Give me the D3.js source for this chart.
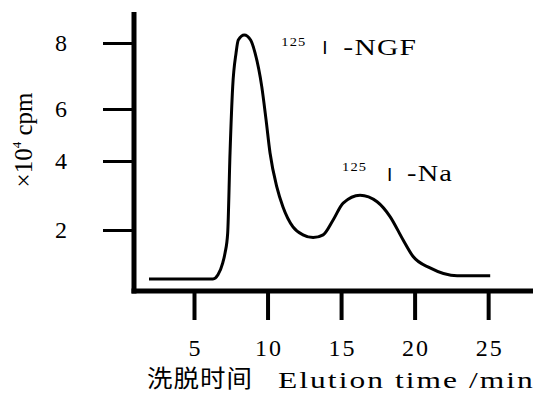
<!DOCTYPE html>
<html><head><meta charset="utf-8">
<script src="https://cdn.jsdelivr.net/npm/d3@7"></script>
<style>body{margin:0;background:#fff}svg{display:block}</style>
</head><body><svg id="c" width="540" height="395"></svg>
<script>
// Data
const elutionTime = [1.94, 6.29, 6.63, 6.95, 7.11, 7.29, 7.45, 7.63, 7.86, 8.01, 8.42, 8.85, 9.15, 9.61, 9.90, 10.17, 10.63, 11.05, 11.73, 12.41, 13.10, 13.78, 14.46, 15.14, 16.29, 17.45, 18.33, 19.22, 19.90, 21.05, 22.89, 25.14];
const cpm = [0.58, 0.58, 0.70, 1.04, 1.33, 1.91, 4.31, 6.67, 7.70, 8.09, 8.24, 8.09, 7.70, 6.67, 5.58, 4.31, 3.25, 2.67, 2.09, 1.86, 1.78, 1.86, 2.29, 2.78, 3.01, 2.82, 2.39, 1.71, 1.23, 0.90, 0.67, 0.67];
const xTicks = [5, 10, 15, 20, 25];
const yTicks = [2, 4, 6, 8];
const peakLabels = ["-NGF", "-Na"];
const peakAt = [[8.42, 8.24], [16.29, 3.01]];
const xTitleCN = "洗脱时间";
const xTitleEN = "Elution time /min";

const svg = d3.select("#c");
const serif = "'Liberation Serif','Times New Roman',serif";

// scales (the original hand-drawn axis has uneven tick spacing -> polylinear)
const x = d3.scaleLinear().domain([0.92, 28.05]).range([134, 533]);
const y = d3.scaleLinear().domain([0.23, 2, 4, 6, 8, 8.94]).range([291, 230, 161, 109, 43, 12]);

// text stretched horizontally to a target width (the original type is wide)
function fitText(px, py, str, family, size, width, spacing) {
  const g = svg.append("g").attr("transform", `translate(${px},${py})`);
  const t = g.append("text").attr("fill", "#000").attr("font-family", family)
    .attr("font-size", size).attr("letter-spacing", spacing || 0).text(str);
  const w = t.node().getComputedTextLength();
  t.attr("transform", `scale(${width / w},1)`);
  return t;
}

// x axis
const gx = svg.append("g").attr("transform", "translate(0,291)")
  .call(d3.axisBottom(x).tickValues(xTicks).tickSize(29).tickSizeOuter(0).tickPadding(19));
gx.select(".domain").attr("stroke-width", 5).attr("d", "M131.5,0H533");
gx.selectAll(".tick line").attr("stroke-width", 4);
gx.selectAll(".tick text").attr("font-family", serif).attr("font-size", 24).attr("fill", "#000").attr("letter-spacing", 2).attr("dx", 1);

// y axis
const gy = svg.append("g").attr("transform", "translate(134,0)")
  .call(d3.axisLeft(y).tickValues(yTicks).tickSize(31).tickSizeOuter(0).tickPadding(36));
gy.select(".domain").attr("stroke-width", 5).attr("d", "M0,12V293.5");
gy.selectAll(".tick line").attr("stroke-width", 3);
gy.selectAll(".tick text").attr("font-family", serif).attr("font-size", 24).attr("fill", "#000");

// y title
const yt = svg.append("text").attr("transform", "translate(32,140) rotate(-90)")
  .attr("text-anchor", "middle").attr("font-family", serif).attr("font-size", 25).attr("fill", "#000");
yt.append("tspan").text("×10");
yt.append("tspan").attr("font-size", 13).attr("dy", -11).text("4");
yt.append("tspan").attr("dy", 11).text(" cpm");

// x title
fitText(147, 387, xTitleCN, "'Noto Sans CJK SC'", 24, 106, 1);
fitText(278, 388, xTitleEN, serif, 23, 257, 1.5);

// curve
const pts = elutionTime.map((t, i) => [t, cpm[i]]);
svg.append("path").datum(pts)
  .attr("fill", "none").attr("stroke", "#000").attr("stroke-width", 3)
  .attr("d", d3.line().x(d => x(d[0])).y(d => y(d[1])).curve(d3.curveMonotoneX));

// peak labels (offsets relative to each peak)
const off = [
  {sup: [37, 11], bar: [78, 19], txt: [99, 20], len: 74},
  {sup: [-18, -24], bar: [27, -14], txt: [47, -14], len: 46}
];
peakLabels.forEach((s, i) => {
  const px = x(peakAt[i][0]), py = y(peakAt[i][1]), o = off[i];
  fitText(px + o.sup[0], py + o.sup[1], "125", serif, 13, 25, 1);
  svg.append("text").attr("x", px + o.bar[0]).attr("y", py + o.bar[1]).attr("fill", "#000")
    .attr("font-family", "'Liberation Sans',sans-serif").attr("font-size", 19).text("I");
  fitText(px + o.txt[0], py + o.txt[1], s, serif, 24, o.len, 1);
});
</script></body></html>
